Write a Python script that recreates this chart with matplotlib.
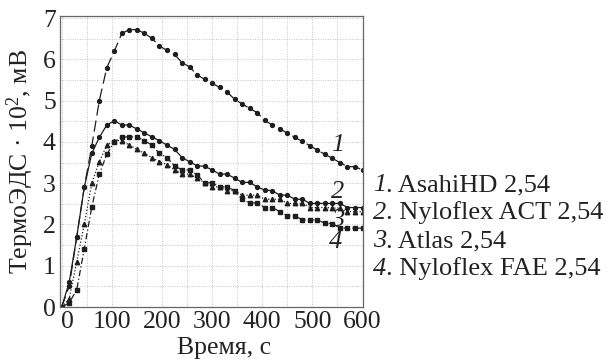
import matplotlib
matplotlib.use('Agg')
import matplotlib.pyplot as plt
import matplotlib.transforms as mtransforms
from matplotlib.ticker import MultipleLocator

plt.rcParams['font.family'] = ['Liberation Serif', 'DejaVu Serif']
plt.rcParams['mathtext.fontset'] = 'custom'
plt.rcParams['mathtext.rm'] = 'Liberation Serif'
plt.rcParams['mathtext.it'] = 'Liberation Serif:italic'

# time, s
t = [0, 15, 30, 45, 60, 75, 90, 105, 120, 135, 150, 165, 180, 195, 210,
     225, 240, 255, 270, 285, 300, 315, 330, 345, 360, 375, 390, 405, 420,
     435, 450, 465, 480, 495, 510, 525, 540, 555, 570, 585, 600]

# 1. AsahiHD 2,54
asahi = [0, 0.5, 1.7, 2.9, 3.9, 5.0, 5.8, 6.2, 6.63, 6.72, 6.72, 6.63, 6.51,
         6.32, 6.22, 6.12, 5.92, 5.82, 5.62, 5.52, 5.42, 5.32, 5.21, 5.03,
         4.92, 4.81, 4.71, 4.52, 4.41, 4.32, 4.21, 4.11, 4.01, 3.91, 3.80,
         3.70, 3.60, 3.50, 3.40, 3.40, 3.32]
# 2. Nyloflex ACT 2,54
act = [0, 0.6, 1.7, 2.9, 3.72, 4.11, 4.41, 4.51, 4.41, 4.41, 4.31, 4.22,
       4.12, 4.03, 3.92, 3.82, 3.62, 3.52, 3.42, 3.41, 3.32, 3.22, 3.22,
       3.12, 3.02, 3.02, 2.91, 2.83, 2.82, 2.71, 2.71, 2.61, 2.61, 2.51,
       2.51, 2.51, 2.51, 2.51, 2.41, 2.41, 2.41]
# 3. Atlas 2,54
atlas = [0, 0.2, 1.1, 2.0, 3.0, 3.52, 3.92, 4.03, 4.03, 3.92, 3.82, 3.72,
         3.62, 3.52, 3.45, 3.32, 3.22, 3.22, 3.12, 3.01, 2.91, 2.91, 2.82,
         2.82, 2.71, 2.71, 2.71, 2.61, 2.61, 2.61, 2.51, 2.51, 2.51, 2.41,
         2.41, 2.41, 2.40, 2.39, 2.31, 2.31, 2.31]
# 4. Nyloflex FAE 2,54
fae = [0, 0.1, 0.42, 1.41, 2.42, 3.22, 3.70, 4.00, 4.12, 4.12, 4.12, 4.03,
       3.92, 3.72, 3.62, 3.42, 3.32, 3.32, 3.20, 3.01, 3.01, 2.91, 2.91,
       2.82, 2.61, 2.52, 2.52, 2.41, 2.41, 2.31, 2.21, 2.21, 2.11, 2.11,
       2.11, 2.03, 2.02, 1.91, 1.91, 1.91, 1.91]

legend_lines = ['AsahiHD 2,54', 'Nyloflex ACT 2,54', 'Atlas 2,54', 'Nyloflex FAE 2,54']
x_ticks = [0, 100, 200, 300, 400, 500, 600]
y_ticks = [0, 1, 2, 3, 4, 5, 6, 7]

fig = plt.figure(figsize=(6.06, 3.63), dpi=100)
ax = fig.add_axes([60 / 606, 1 - 307 / 363, 302.5 / 606, 291 / 363])

c = '#1e1e1e'
ax.plot(t, asahi, color=c, lw=0.9, ls=(0, (9, 4)), marker='o', ms=2.8)
ax.plot(t, act, color=c, lw=0.9, ls='-', marker='o', ms=2.8)
ax.plot(t, atlas, color=c, lw=0.9, ls=(0, (1, 1.6)), marker='^', ms=3.2)
ax.plot(t, fae, color=c, lw=0.9, ls=(0, (5, 2, 1, 2)), marker='s', ms=2.8)

ax.set_xlim(-3.4, 600)
ax.set_ylim(0, 7.05)
ax.set_xticks(x_ticks)
ax.set_yticks(y_ticks)
ax.xaxis.set_minor_locator(MultipleLocator(50))
ax.yaxis.set_minor_locator(MultipleLocator(0.5))
ax.grid(which='both', color='#c4c4c4', ls=(0, (1, 1.5)), lw=0.7)
ax.set_axisbelow(True)
ax.tick_params(which='both', length=0, labelsize=18.5, colors='#222222', pad=3)
for s in ax.spines.values():
    s.set_color('#666666')
    s.set_linewidth(0.9)

# the "0" on the time axis sits a little to the right
lbl0 = ax.get_xticklabels()[0]
lbl0.set_transform(lbl0.get_transform() + mtransforms.ScaledTranslation(6 / 100, 0, fig.dpi_scale_trans))

# curve numbers
for num, (xx, yy) in zip(['1', '2', '3', '4'], [(551, 3.92), (551, 2.79), (551, 2.11), (547, 1.58)]):
    ax.text(xx, yy, num, fontsize=19, style='italic', ha='center', va='center', color='#222222')

fig.text(224 / 606, 1 - 348 / 363, 'Время, с', fontsize=18.5, ha='center', va='center', color='#222222')
fig.text(20 / 606, 1 - 161 / 363, 'ТермоЭДС · 10$^2$, мВ', fontsize=18.5, rotation=90,
         ha='center', va='center', color='#222222')

# legend text: italic number, then the name
for i, name in enumerate(legend_lines):
    yy = 1 - (185 + 28 * i) / 363
    fig.text(373 / 606, yy, str(i + 1), fontsize=19, style='italic',
             ha='left', va='center', color='#222222')
    fig.text(386 / 606, yy, '. ' + name, fontsize=19, ha='left', va='center', color='#222222')

fig.savefig('out.png', dpi=100)
